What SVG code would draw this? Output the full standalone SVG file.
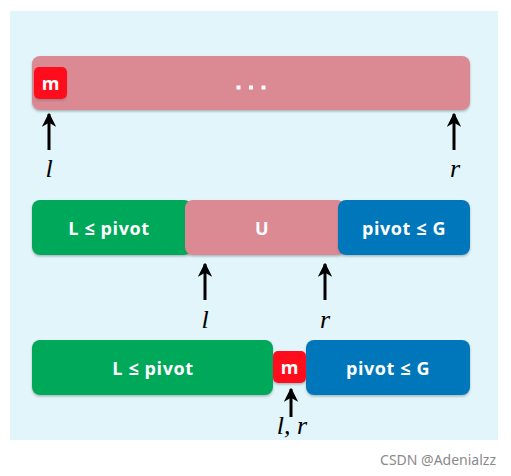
<svg xmlns="http://www.w3.org/2000/svg" width="511" height="476" viewBox="0 0 511 476">
<defs>
<marker id="ah" viewBox="0 0 10 10" refX="9" refY="5" markerWidth="4.8" markerHeight="4.8" orient="auto" markerUnits="strokeWidth">
<path d="M0,0 L10,5 L0,10 L3,5 Z" fill="#000"/>
</marker>
<filter id="sh" x="-10%" y="-20%" width="120%" height="150%">
<feDropShadow dx="0" dy="1.5" stdDeviation="1.2" flood-color="#5a6a70" flood-opacity="0.45"/>
</filter>
</defs>
<style>
.bg{fill:#E1F5FA}
.pink{fill:#DB8A94}
.green{fill:#00A85A}
.blue{fill:#0077BB}
.red{fill:#FF0A1E}
.t{font-family:"Open Sans","Liberation Sans",sans-serif;font-weight:700;fill:#fff;text-anchor:middle;font-size:18px;letter-spacing:0.6px}
.m{font-family:"Liberation Serif",serif;font-style:italic;font-size:26px;fill:#000;text-anchor:middle}
.ar{stroke:#000;stroke-width:3;fill:none;marker-end:url(#ah)}
.dot{fill:#fff}
</style>
<rect width="511" height="476" fill="#fff"/>
<rect class="bg" x="10" y="11" width="488" height="429"/>

<g id="row1">
<rect class="pink" x="32" y="56" width="438" height="54" rx="8" filter="url(#sh)"/>
<rect class="dot" x="236.5" y="85.5" width="4" height="4"/>
<rect class="dot" x="249" y="85.5" width="4" height="4"/>
<rect class="dot" x="261.5" y="85.5" width="4" height="4"/>
</g>
<g id="m1">
<rect class="red" x="34" y="67" width="33" height="32" rx="5" filter="url(#sh)"/>
<text class="t" x="50.5" y="90" style="letter-spacing:0">m</text>
</g>

<g id="row2-L">
<rect class="green" x="32" y="200" width="160" height="55" rx="8" filter="url(#sh)"/>
<text class="t" x="109" y="235">L ≤ pivot</text>
</g>
<g id="row2-U">
<rect class="pink" x="185" y="200" width="160" height="55" rx="8" filter="url(#sh)"/>
<text class="t" x="262" y="235">U</text>
</g>
<g id="row2-G">
<rect class="blue" x="338" y="200" width="132" height="55" rx="8" filter="url(#sh)"/>
<text class="t" x="404" y="235">pivot ≤ G</text>
</g>

<g id="row3-L">
<rect class="green" x="32" y="340" width="241" height="55" rx="8" filter="url(#sh)"/>
<text class="t" x="153" y="375">L ≤ pivot</text>
</g>
<g id="row3-G">
<rect class="blue" x="306" y="340" width="164" height="55" rx="8" filter="url(#sh)"/>
<text class="t" x="388" y="375">pivot ≤ G</text>
</g>
<g id="row3-m">
<rect class="red" x="273" y="351" width="33" height="32" rx="5" filter="url(#sh)"/>
<text class="t" x="289.5" y="374" style="letter-spacing:0">m</text>
</g>

<g id="connectors">
<line class="ar" x1="49" y1="150" x2="49" y2="114"/>
<line class="ar" x1="454" y1="150" x2="454" y2="114"/>
<line class="ar" x1="205" y1="300" x2="205" y2="264"/>
<line class="ar" x1="325" y1="300" x2="325" y2="264"/>
<line class="ar" x1="291" y1="417" x2="291" y2="389"/>
</g>

<g id="labels">
<text class="m" x="49" y="177">l</text>
<text class="m" x="455" y="177">r</text>
<text class="m" x="205" y="328">l</text>
<text class="m" x="325" y="328">r</text>
<text class="m" x="292" y="434">l, r</text>
</g>

<text x="496" y="465" font-family="'Noto Sans','Liberation Sans',sans-serif" font-size="14" fill="#8a8a8a" text-anchor="end">CSDN @Adenialzz</text>
</svg>
